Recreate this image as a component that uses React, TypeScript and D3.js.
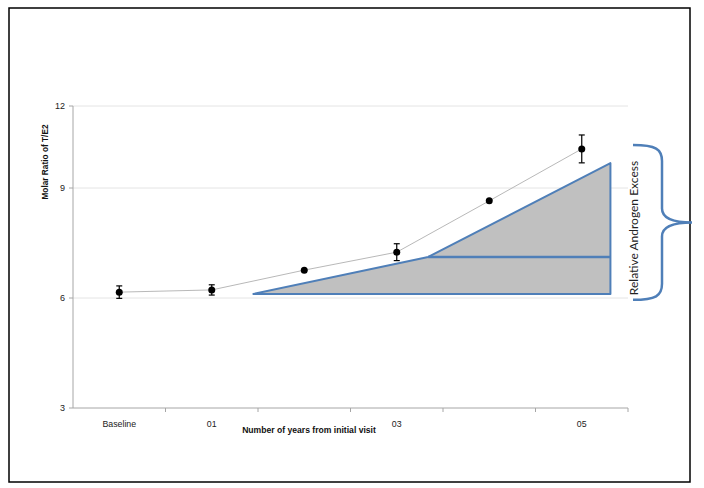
import * as d3 from "d3";

const categories = ["Baseline", "01", "02", "03", "04", "05"];
const ratioMeans = [6.16, 6.22, 6.76, 7.25, 8.65, 10.43];
const ratioErrors = [0.17, 0.14, 0, 0.23, 0, 0.51];
const yTicks = [3, 6, 9, 12];
const gridTicks = [6, 9, 12];

// shaded "androgen excess" wedge, x in category index units, y in ratio units
const wedgeX = [1.45, 3.34, 5.31, 5.31];
const wedgeY = [6.11, 7.12, 9.91, 6.11];
const braceRange = [5.95, 10.57];

const W = 704;
const H = 488;

export default function App() {
  const x = d3.scaleBand().domain(categories).range([73, 628]);
  const bw = x.bandwidth();
  const xPos = d3
    .scaleLinear()
    .domain([0, categories.length - 1])
    .range([x(categories[0])! + bw / 2, x(categories[categories.length - 1])! + bw / 2]);
  // the original axis is not evenly spaced, so a piecewise scale is used
  const y = d3.scaleLinear().domain([3, 6, 9, 12]).range([408, 298, 188, 106]);

  const line = d3
    .line<number>()
    .x((_, i) => xPos(i))
    .y((d) => y(d));

  const wedge = wedgeX.map((v, i) => [xPos(v), y(wedgeY[i])] as [number, number]);

  const bTop = y(braceRange[1]);
  const bBot = y(braceRange[0]);
  const bMid = (bTop + bBot) / 2;
  const bx0 = 633;
  const bx1 = 662;
  const bTip = 692;
  const brace = [
    `M${bx0},${bTop}`,
    `C${bx1 - 6},${bTop} ${bx1},${bTop + 4} ${bx1},${bTop + 16}`,
    `L${bx1},${bMid - 14}`,
    `C${bx1},${bMid - 4} ${bx1 + 10},${bMid} ${bTip},${bMid}`,
    `C${bx1 + 10},${bMid} ${bx1},${bMid + 4} ${bx1},${bMid + 14}`,
    `L${bx1},${bBot - 16}`,
    `C${bx1},${bBot - 4} ${bx1 - 6},${bBot} ${bx0},${bBot}`,
  ].join(" ");

  const font = "'Liberation Sans', Arial, sans-serif";

  return (
    <svg
      width={W}
      height={H}
      style={{ position: "absolute", left: 0, top: 0, background: "#fff" }}
    >
      <rect x={9} y={8} width={681} height={474} fill="none" stroke="#000" strokeWidth={1.5} />

      {gridTicks.map((t) => (
        <line key={t} x1={73} x2={628} y1={y(t)} y2={y(t)} stroke="#e4e4e4" strokeWidth={1} />
      ))}

      <polygon points={wedge.map((p) => p.join(",")).join(" ")} fill="#c0c0c0" stroke="#4f7fb8" strokeWidth={2} strokeLinejoin="round" />
      <line x1={wedge[1][0]} x2={wedge[2][0]} y1={wedge[1][1]} y2={wedge[1][1]} stroke="#4f7fb8" strokeWidth={2.5} />

      <line x1={73} x2={73} y1={y(12)} y2={y(3)} stroke="#a6a6a6" />
      {yTicks.map((t) => (
        <g key={t}>
          <line x1={69} x2={73} y1={y(t)} y2={y(t)} stroke="#a6a6a6" />
          <text x={65} y={y(t) + 3} textAnchor="end" fontFamily={font} fontSize={9} fill="#222">
            {t}
          </text>
        </g>
      ))}

      <line x1={73} x2={628} y1={y(3)} y2={y(3)} stroke="#a6a6a6" />
      {categories.map((c) => (
        <line key={c} x1={x(c)! + bw} x2={x(c)! + bw} y1={y(3)} y2={y(3) + 4} stroke="#a6a6a6" />
      ))}
      {categories.map((c, i) =>
        i === 0 || i % 2 === 1 ? (
          <text key={c} x={x(c)! + bw / 2} y={427} textAnchor="middle" fontFamily={font} fontSize={8.8} fill="#222">
            {c}
          </text>
        ) : null
      )}

      <path d={line(ratioMeans) ?? ""} fill="none" stroke="#b0b0b0" strokeWidth={0.9} />
      {ratioMeans.map((v, i) => (
        <g key={i}>
          {ratioErrors[i] > 0 && (
            <g stroke="#000" strokeWidth={1.2}>
              <line x1={xPos(i)} x2={xPos(i)} y1={y(v - ratioErrors[i])} y2={y(v + ratioErrors[i])} />
              <line x1={xPos(i) - 3} x2={xPos(i) + 3} y1={y(v - ratioErrors[i])} y2={y(v - ratioErrors[i])} />
              <line x1={xPos(i) - 3} x2={xPos(i) + 3} y1={y(v + ratioErrors[i])} y2={y(v + ratioErrors[i])} />
            </g>
          )}
          <circle cx={xPos(i)} cy={y(v)} r={3.5} fill="#000" />
        </g>
      ))}

      <text
        transform={`translate(48,162) rotate(-90)`}
        textAnchor="middle"
        fontFamily={font}
        fontWeight="bold"
        fontSize={8.3}
        fill="#111"
      >
        Molar Ratio of T/E2
      </text>
      <text x={309} y={433} textAnchor="middle" fontFamily={font} fontWeight="bold" fontSize={8.6} fill="#111">
        Number of years from initial visit
      </text>

      <path d={brace} fill="none" stroke="#4f7fb8" strokeWidth={2.5} />
      <text
        transform={`translate(638,228) rotate(-90)`}
        textAnchor="middle"
        fontFamily="Lato, 'Open Sans', sans-serif"
        fontSize={12}
        fill="#222"
      >
        Relative Androgen Excess
      </text>
    </svg>
  );
}
